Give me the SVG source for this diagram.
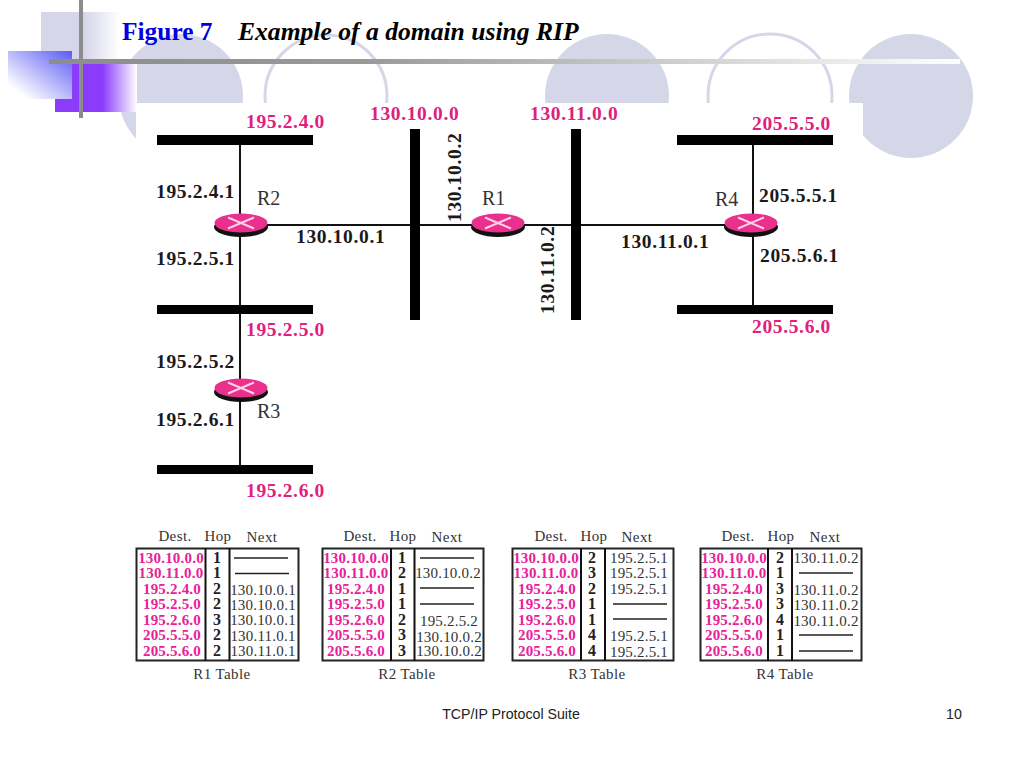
<svg xmlns="http://www.w3.org/2000/svg" width="1024" height="768" viewBox="0 0 1024 768">
<style>
text{font-family:"Liberation Serif","DejaVu Serif",serif}
.net{font-size:19.5px;font-weight:bold;fill:#e0207c;letter-spacing:.65px}
.ip{font-size:19.5px;font-weight:bold;fill:#1a1a1a;letter-spacing:.65px}
.rn{font-size:20px;fill:#333}
.hd{font-size:15px;fill:#333;text-anchor:middle;letter-spacing:.4px}
.d{font-size:15px;font-weight:bold;fill:#e8209a;text-anchor:middle;letter-spacing:.2px}
.h{font-size:16px;font-weight:bold;fill:#222;text-anchor:middle}
.n{font-size:15px;fill:#333;text-anchor:middle;letter-spacing:.2px}
.dash{stroke:#222;stroke-width:1.4}
.box{fill:#fff;stroke:#222;stroke-width:2}
.bar{fill:#000}
.wire{stroke:#111;stroke-width:2;fill:none}
.deco{fill:#d6d6e9}
.foot{font-family:"Liberation Sans",Arial,sans-serif;font-size:14.2px;fill:#222}
.rb{fill:#111}.rt{fill:#e8308c}.rx{stroke:#ffd0e6;stroke-width:2}
</style>
<defs>
<linearGradient id="g1"><stop offset="0.55" stop-color="#d6d6e9"/><stop offset="1" stop-color="#fff"/></linearGradient>
<linearGradient id="g2" x1="1" y1="0" x2="0" y2="1"><stop offset="0" stop-color="#5a5af5"/><stop offset="0.85" stop-color="#fff"/></linearGradient>
<linearGradient id="g3"><stop offset="0.58" stop-color="#8a3cfa"/><stop offset="1" stop-color="#fff"/></linearGradient>
<linearGradient id="g4"><stop offset="0" stop-color="#8c8c8c"/><stop offset="0.35" stop-color="#9a9a9a"/><stop offset="1" stop-color="#fff"/></linearGradient>
</defs>
<rect width="1024" height="768" fill="#fff"/>
<g id="decoration">
<circle class="deco" cx="181" cy="96" r="62"/>
<circle cx="326" cy="96" r="61" fill="none" stroke="#d6d6e9" stroke-width="3"/>
<circle class="deco" cx="607" cy="96" r="62"/>
<circle cx="770" cy="96" r="62" fill="none" stroke="#d6d6e9" stroke-width="3"/>
<circle class="deco" cx="911" cy="96" r="62"/>
<rect x="41" y="12" width="79" height="52" fill="url(#g1)"/>
<rect x="55" y="64" width="82" height="48" fill="url(#g3)"/>
<rect x="8" y="51" width="64" height="48" fill="url(#g2)"/>
<rect x="136" y="103" width="727" height="440" fill="#fff"/>
<rect x="79" y="0" width="4" height="118" fill="#8c8c8c"/>
<rect x="49" y="59" width="911" height="5" fill="url(#g4)"/>
</g>
<g id="title">
<text x="122" y="40" style="font-size:25.4px;font-weight:bold;fill:#0000e0">Figure 7</text>
<text x="238" y="40" style="font-size:25.6px;font-weight:bold;font-style:italic;fill:#000">Example of a domain using RIP</text>
</g>
<g id="connectors">
<line class="wire" x1="240" y1="145" x2="240" y2="466"/>
<line class="wire" x1="240" y1="225" x2="752" y2="225"/>
<line class="wire" x1="753" y1="145" x2="753" y2="306"/>
</g>
<g id="net-195-2-4-0"><rect class="bar" x="157" y="135" width="156" height="10"/><text class="net" x="246" y="128">195.2.4.0</text></g>
<g id="net-195-2-5-0"><rect class="bar" x="157" y="305" width="156" height="9"/><text class="net" x="246" y="336">195.2.5.0</text></g>
<g id="net-195-2-6-0"><rect class="bar" x="157" y="465" width="156" height="9"/><text class="net" x="246" y="497">195.2.6.0</text></g>
<g id="net-130-10-0-0"><rect class="bar" x="410" y="129" width="10" height="191"/><text class="net" x="370" y="120">130.10.0.0</text></g>
<g id="net-130-11-0-0"><rect class="bar" x="571" y="129" width="10" height="191"/><text class="net" x="530" y="120">130.11.0.0</text></g>
<g id="net-205-5-5-0"><rect class="bar" x="677" y="135" width="156" height="10"/><text class="net" x="752" y="130">205.5.5.0</text></g>
<g id="net-205-5-6-0"><rect class="bar" x="677" y="305" width="156" height="9"/><text class="net" x="752" y="333">205.5.6.0</text></g>
<g id="R2"><ellipse class="rb" cx="241" cy="227" rx="27" ry="10"/><ellipse class="rt" cx="241" cy="223" rx="26.5" ry="9.5"/><path class="rx" d="M228 217.500L254 228.500M228 228.500L254 217.500"/><text class="rn" x="257" y="205">R2</text></g>
<g id="R1"><ellipse class="rb" cx="498" cy="227" rx="27" ry="10"/><ellipse class="rt" cx="498" cy="223" rx="26.500" ry="9.500"/><path class="rx" d="M485 217.500L511 228.500M485 228.500L511 217.500"/><text class="rn" x="482" y="205">R1</text></g>
<g id="R4"><ellipse class="rb" cx="751" cy="227" rx="27" ry="10"/><ellipse class="rt" cx="751" cy="223" rx="26.500" ry="9.500"/><path class="rx" d="M738 217.500L764 228.500M738 228.500L764 217.500"/><text class="rn" x="715" y="206">R4</text></g>
<g id="R3"><ellipse class="rb" cx="241" cy="392" rx="27" ry="10"/><ellipse class="rt" cx="241" cy="388" rx="26.500" ry="9.500"/><path class="rx" d="M228 382.500L254 393.500M228 393.500L254 382.500"/><text class="rn" x="257" y="418">R3</text></g>
<g id="interface-labels">
<text class="ip" x="156" y="198">195.2.4.1</text>
<text class="ip" x="156" y="265">195.2.5.1</text>
<text class="ip" x="156" y="368">195.2.5.2</text>
<text class="ip" x="156" y="426">195.2.6.1</text>
<text class="ip" x="296" y="243">130.10.0.1</text>
<text class="ip" x="621" y="248">130.11.0.1</text>
<text class="ip" x="759" y="202">205.5.5.1</text>
<text class="ip" x="760" y="262">205.5.6.1</text>
<text class="ip" transform="translate(461 222) rotate(-90)">130.10.0.2</text>
<text class="ip" transform="translate(554 314) rotate(-90)">130.11.0.2</text>
</g>
<g id="R1-table">
<text class="hd" x="175" y="541">Dest.</text><text class="hd" x="218" y="541">Hop</text><text class="hd" x="262" y="542">Next</text>
<rect class="box" x="136.500" y="548.500" width="162" height="112"/><path class="wire" d="M205.500 548V661M229.500 548V661"/>
<text class="d" x="171" y="563">130.10.0.0</text><text class="d" x="171" y="578">130.11.0.0</text><text class="d" x="172" y="594">195.2.4.0</text><text class="d" x="172" y="609">195.2.5.0</text><text class="d" x="172" y="625">195.2.6.0</text><text class="d" x="172" y="640">205.5.5.0</text><text class="d" x="172" y="656">205.5.6.0</text>
<text class="h" x="217" y="563">1</text><text class="h" x="217" y="578">1</text><text class="h" x="217" y="594">2</text><text class="h" x="217" y="609">2</text><text class="h" x="217" y="625">3</text><text class="h" x="217" y="640">2</text><text class="h" x="217" y="656">2</text>
<line class="dash" x1="234" y1="558" x2="288" y2="558"/><line class="dash" x1="235" y1="573.500" x2="289" y2="573.500"/>
<text class="n" x="263" y="595">130.10.0.1</text><text class="n" x="263" y="610">130.10.0.1</text><text class="n" x="263" y="625">130.10.0.1</text><text class="n" x="263" y="641">130.11.0.1</text><text class="n" x="263" y="656">130.11.0.1</text>
<text class="hd" x="222" y="679">R1 Table</text>
</g>
<g id="R2-table">
<text class="hd" x="360" y="541">Dest.</text><text class="hd" x="403" y="541">Hop</text><text class="hd" x="447" y="542">Next</text>
<rect class="box" x="322.500" y="548.500" width="161" height="112"/><path class="wire" d="M391 548V661M414.500 548V661"/>
<text class="d" x="356" y="563">130.10.0.0</text><text class="d" x="356" y="578">130.11.0.0</text><text class="d" x="356" y="594">195.2.4.0</text><text class="d" x="356" y="609">195.2.5.0</text><text class="d" x="356" y="625">195.2.6.0</text><text class="d" x="356" y="640">205.5.5.0</text><text class="d" x="356" y="656">205.5.6.0</text>
<text class="h" x="402" y="563">1</text><text class="h" x="402" y="578">2</text><text class="h" x="402" y="594">1</text><text class="h" x="402" y="609">1</text><text class="h" x="402" y="625">2</text><text class="h" x="402" y="640">3</text><text class="h" x="402" y="656">3</text>
<line class="dash" x1="420" y1="558" x2="474" y2="558"/><text class="n" x="448" y="578">130.10.0.2</text><line class="dash" x1="420" y1="588" x2="474" y2="588"/><line class="dash" x1="420" y1="604" x2="474" y2="604"/>
<text class="n" x="449" y="626">195.2.5.2</text><text class="n" x="449" y="642">130.10.0.2</text><text class="n" x="449" y="656">130.10.0.2</text>
<text class="hd" x="407" y="679">R2 Table</text>
</g>
<g id="R3-table">
<text class="hd" x="551" y="541">Dest.</text><text class="hd" x="594" y="541">Hop</text><text class="hd" x="637" y="542">Next</text>
<rect class="box" x="512.500" y="548.500" width="161" height="112"/><path class="wire" d="M581 548V661M605 548V661"/>
<text class="d" x="546" y="563">130.10.0.0</text><text class="d" x="546" y="578">130.11.0.0</text><text class="d" x="547" y="594">195.2.4.0</text><text class="d" x="547" y="609">195.2.5.0</text><text class="d" x="547" y="625">195.2.6.0</text><text class="d" x="547" y="640">205.5.5.0</text><text class="d" x="547" y="656">205.5.6.0</text>
<text class="h" x="592" y="563">2</text><text class="h" x="592" y="578">3</text><text class="h" x="592" y="594">2</text><text class="h" x="592" y="609">1</text><text class="h" x="592" y="625">1</text><text class="h" x="592" y="640">4</text><text class="h" x="592" y="656">4</text>
<text class="n" x="639" y="563">195.2.5.1</text><text class="n" x="639" y="578">195.2.5.1</text><text class="n" x="639" y="594">195.2.5.1</text><line class="dash" x1="613" y1="604" x2="667" y2="604"/><line class="dash" x1="613" y1="619" x2="667" y2="619"/><text class="n" x="639" y="641">195.2.5.1</text><text class="n" x="639" y="657">195.2.5.1</text>
<text class="hd" x="597" y="679">R3 Table</text>
</g>
<g id="R4-table">
<text class="hd" x="738" y="541">Dest.</text><text class="hd" x="781" y="541">Hop</text><text class="hd" x="825" y="542">Next</text>
<rect class="box" x="700.500" y="548.500" width="161" height="112"/><path class="wire" d="M768 548V661M792 548V661"/>
<text class="d" x="734" y="563">130.10.0.0</text><text class="d" x="734" y="578">130.11.0.0</text><text class="d" x="734" y="594">195.2.4.0</text><text class="d" x="734" y="609">195.2.5.0</text><text class="d" x="734" y="625">195.2.6.0</text><text class="d" x="734" y="640">205.5.5.0</text><text class="d" x="734" y="656">205.5.6.0</text>
<text class="h" x="780" y="563">2</text><text class="h" x="780" y="578">1</text><text class="h" x="780" y="594">3</text><text class="h" x="780" y="609">3</text><text class="h" x="780" y="625">4</text><text class="h" x="780" y="640">1</text><text class="h" x="780" y="656">1</text>
<text class="n" x="826" y="563">130.11.0.2</text><line class="dash" x1="799" y1="573" x2="853" y2="573"/><text class="n" x="826" y="595">130.11.0.2</text><text class="n" x="826" y="610">130.11.0.2</text><text class="n" x="826" y="626">130.11.0.2</text><line class="dash" x1="799" y1="635" x2="853" y2="635"/><line class="dash" x1="799" y1="651" x2="853" y2="651"/>
<text class="hd" x="785" y="679">R4 Table</text>
</g>
<g id="footer"><text class="foot" x="511" y="719" text-anchor="middle">TCP/IP Protocol Suite</text><text class="foot" x="954" y="719" text-anchor="middle">10</text></g>
</svg>
